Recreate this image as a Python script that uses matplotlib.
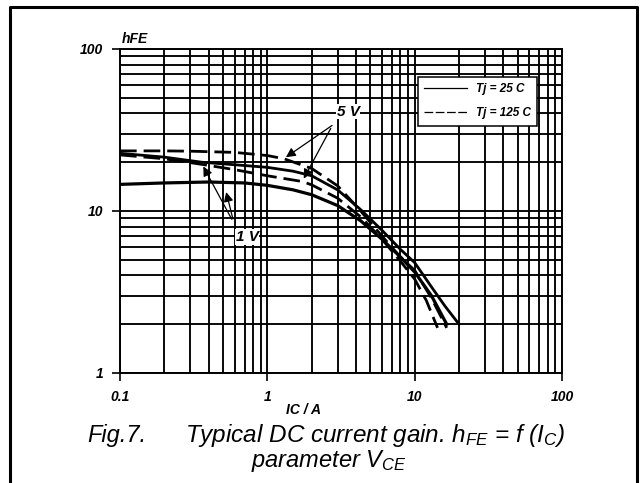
import numpy as np
import matplotlib
matplotlib.use("Agg")
import matplotlib.pyplot as plt
from matplotlib.lines import Line2D
from matplotlib.ticker import LogLocator, FixedLocator, NullFormatter

plt.rcParams['font.family'] = ['Liberation Sans', 'DejaVu Sans']
plt.rcParams['mathtext.fontset'] = 'custom'
plt.rcParams['mathtext.rm'] = 'Liberation Sans:italic'
plt.rcParams['mathtext.it'] = 'Liberation Sans:italic'

# Curves: collector current (A) and hFE
ic_5v_125 = [0.1, 0.2, 0.3, 0.6, 1.0, 1.3, 2.0, 3.0, 4.3, 6.0, 8.0, 10.0, 13.0, 16.5]
hfe_5v_125 = [23.5, 23.5, 23.4, 23.0, 22.0, 21.0, 18.3, 14.3, 10.0, 7.0, 5.2, 4.3, 2.9, 1.9]

ic_5v_25 = [0.1, 0.2, 0.36, 0.6, 1.0, 1.5, 2.0, 3.0, 4.3, 6.0, 8.0, 10.0, 13.0, 16.0, 20.0]
hfe_5v_25 = [22.7, 21.5, 20.0, 19.3, 18.6, 17.6, 16.5, 13.5, 10.2, 7.6, 5.8, 4.8, 3.4, 2.6, 2.0]

ic_1v_125 = [0.1, 0.2, 0.36, 0.6, 1.0, 1.73, 2.0, 3.0, 4.3, 6.0, 8.0, 10.0, 12.0, 14.3]
hfe_1v_125 = [22.2, 21.0, 19.4, 18.0, 16.5, 15.2, 14.5, 12.0, 9.2, 6.7, 4.9, 3.8, 2.8, 1.9]

ic_1v_25 = [0.1, 0.2, 0.4, 0.7, 1.0, 1.5, 2.0, 3.0, 4.3, 6.0, 8.0, 10.0, 13.0, 16.5]
hfe_1v_25 = [14.6, 14.9, 15.1, 14.9, 14.4, 13.5, 12.6, 10.8, 8.7, 6.7, 5.2, 4.2, 3.0, 2.0]

x_ticks = [0.1, 1, 10, 100]
x_labels = ['0.1', '1', '10', '100']
y_ticks = [1, 10, 100]
y_labels = ['1', '10', '100']

fig = plt.figure(figsize=(6.41, 4.83), dpi=100)
ax = fig.add_axes([120 / 641, 1 - 373 / 483, 442 / 641, 324 / 483])

ax.set_xscale('log')
ax.set_yscale('log')
ax.set_xlim(0.1, 100)
ax.set_ylim(1, 100)

dash = (0, (6, 2.5))
ax.plot(ic_5v_125, hfe_5v_125, color='black', lw=2.0, linestyle=dash)
ax.plot(ic_5v_25, hfe_5v_25, color='black', lw=2.0)
ax.plot(ic_1v_125, hfe_1v_125, color='black', lw=2.0, linestyle=dash)
ax.plot(ic_1v_25, hfe_1v_25, color='black', lw=2.3)

# grid
ax.xaxis.set_minor_locator(LogLocator(base=10, subs=np.arange(2, 10)))
ax.yaxis.set_minor_locator(LogLocator(base=10, subs=np.arange(2, 10)))
ax.xaxis.set_minor_formatter(NullFormatter())
ax.yaxis.set_minor_formatter(NullFormatter())
ax.grid(True, which='both', color='black', lw=1.35)
ax.set_axisbelow(True)
for s in ax.spines.values():
    s.set_linewidth(1.4)

ax.xaxis.set_major_locator(FixedLocator(x_ticks))
ax.yaxis.set_major_locator(FixedLocator(y_ticks))
ax.set_xticklabels(x_labels, fontsize=10, fontstyle='italic', fontweight='bold')
ax.set_yticklabels(y_labels, fontsize=10, fontstyle='italic', fontweight='bold')
ax.tick_params(which='major', direction='out', length=6, width=1.2, pad=6)
ax.tick_params(which='minor', length=0)

ax.text(0.102, 104, 'hFE', fontsize=10, fontstyle='italic', fontweight='bold',
        ha='left', va='bottom')
fig.text(304 / 641, 1 - 410 / 483, 'IC / A', fontsize=10, fontstyle='italic',
         fontweight='bold', ha='center', va='center')

# legend
handles = [Line2D([], [], color='black', lw=0.9),
           Line2D([], [], color='black', lw=0.9, linestyle=(0, (7, 2)))]
leg = ax.legend(handles, ['Tj = 25 C', 'Tj = 125 C'], loc='upper left',
                bbox_to_anchor=((418 - 120) / 442, (373 - 77) / 324),
                prop={'size': 8.5, 'style': 'italic', 'weight': 'bold'},
                frameon=True, fancybox=False, framealpha=1, edgecolor='black',
                handlelength=3.6, borderpad=0.55, labelspacing=1.0,
                handletextpad=0.75, borderaxespad=0)
leg.get_frame().set_linewidth(1.1)

# annotations
arrow = dict(arrowstyle='-|>', color='black', lw=0.9, mutation_scale=14)
ax.annotate('', xy=(1.29, 21.0), xytext=(2.85, 34.5), arrowprops=arrow)
ax.annotate('', xy=(1.73, 15.3), xytext=(2.75, 33.5), arrowprops=arrow)
ax.text(2.95, 41.0, '5 V', fontsize=11, fontstyle='italic', fontweight='bold',
        ha='left', va='center', bbox=dict(facecolor='white', edgecolor='none', pad=0.5))
ax.annotate('', xy=(0.36, 19.5), xytext=(0.585, 8.6), arrowprops=arrow)
ax.annotate('', xy=(0.52, 13.6), xytext=(0.59, 8.6), arrowprops=arrow)
ax.text(0.61, 6.9, '1 V', fontsize=11, fontstyle='italic', fontweight='bold',
        ha='left', va='center', bbox=dict(facecolor='white', edgecolor='none', pad=0.5))

# caption
fig.text(87 / 641, 1 - 442 / 483, 'Fig.7.', fontsize=17, fontstyle='italic',
         ha='left', va='baseline')
fig.text(565 / 641, 1 - 442 / 483, 'Typical DC current gain. $h_{FE}$ = f (I$_C$)',
         fontsize=17.5, fontstyle='italic', ha='right', va='baseline')
fig.text(329 / 641, 1 - 467 / 483, 'parameter V$_{CE}$',
         fontsize=17, fontstyle='italic', ha='center', va='baseline')

# outer frame, open at the bottom
fx0, fx1, fy1 = 10 / 641, 637 / 641, 1 - 7 / 483
fig.add_artist(Line2D([fx0, fx0, fx1, fx1], [0, fy1, fy1, 0], color='black', lw=2.2,
                      transform=fig.transFigure))

fig.savefig('out.png', dpi=100)
